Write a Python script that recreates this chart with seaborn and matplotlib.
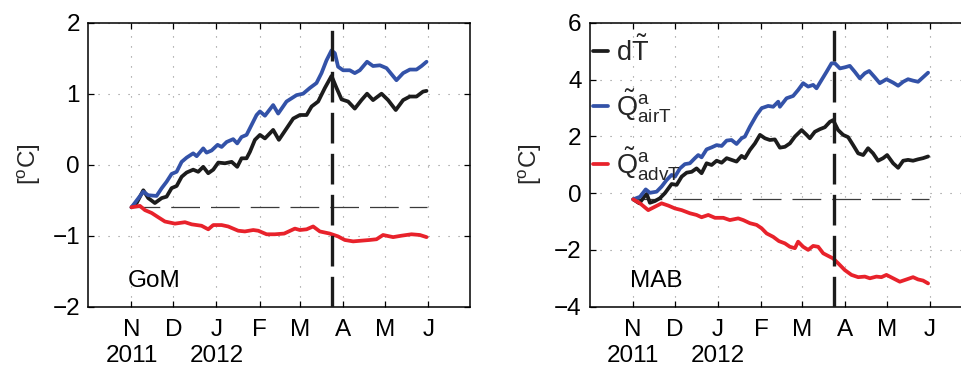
import numpy as np
import pandas as pd
import matplotlib
matplotlib.use("Agg")
import matplotlib.pyplot as plt
import seaborn as sns

# x values are days since 1 Oct 2011
month_ticks = [31, 61, 92, 123, 152, 183, 213, 244]
month_labels = ["N\n2011", "D", "J\n2012", "F", "M", "A", "M", "J"]
x_limits = (0, 274)
event_day = 175
series_names = [r"d$\tilde{T}$", r"$\tilde{Q}^{a}_{airT}$", r"$\tilde{Q}^{a}_{advT}$"]
series_colors = ["#1c1c1c", "#3352a8", "#e8222b"]
panel_names = ["GoM", "MAB"]
gom_yticks = [-2, -1, 0, 1, 2]
mab_yticks = [-4, -2, 0, 2, 4, 6]
gom_ref = -0.60
mab_ref = -0.22
ref_span = (31, 243)

# ---------------- GoM ----------------
gom_dT_day = [31, 34.7, 39.5, 43, 47.8, 52.7, 56.2, 59.8, 63.4, 67, 70.6, 75.3, 78.9, 82.5,
              86.1, 89.7, 93.3, 98.1, 102.9, 106.9, 110, 113.6, 116, 119.6, 123.2, 126.8,
              132.7, 136.8, 142.3, 147.1, 151.9, 156.7, 160.3, 165, 169.8, 174.6, 178.2,
              181.8, 186.5, 191.3, 196.1, 200.1, 204.4, 210.5, 215.2, 220.7, 226, 230.8,
              235.6, 240.3, 242.8]
gom_dT = [-0.60, -0.54, -0.36, -0.47, -0.54, -0.47, -0.45, -0.33, -0.30, -0.17, -0.11, -0.07,
          -0.10, -0.03, -0.12, -0.07, 0.03, 0.02, 0.04, -0.03, 0.09, 0.09, 0.18, 0.35, 0.42,
          0.37, 0.49, 0.35, 0.51, 0.65, 0.70, 0.70, 0.82, 0.89, 1.08, 1.25, 1.08, 0.92, 0.89,
          0.79, 0.91, 1.00, 0.91, 1.00, 0.91, 0.77, 0.91, 0.96, 0.96, 1.03, 1.04]

gom_air_day = [31, 39.5, 43, 49, 52.7, 56.2, 59.8, 63.4, 67, 70.6, 75.3, 77.8, 82.5, 84.9,
               88.5, 92.8, 95.7, 99.3, 104, 106.9, 110, 113.6, 117.2, 120.8, 123.2, 126.8,
               132.7, 136.3, 142.3, 149.5, 154.2, 159, 163.8, 167.4, 171, 174.6, 177, 179.3,
               182.9, 187.7, 191.3, 194.9, 200.1, 204.4, 209.3, 214.1, 221.2, 226, 230.8,
               235.6, 239.2, 242.8]
gom_air = [-0.60, -0.38, -0.43, -0.44, -0.33, -0.24, -0.13, -0.10, 0.04, 0.10, 0.16, 0.12,
           0.23, 0.17, 0.20, 0.28, 0.25, 0.32, 0.36, 0.30, 0.39, 0.42, 0.56, 0.70, 0.75, 0.69,
           0.84, 0.72, 0.89, 0.98, 1.00, 1.08, 1.15, 1.29, 1.47, 1.61, 1.57, 1.38, 1.33, 1.33,
           1.29, 1.33, 1.45, 1.39, 1.40, 1.36, 1.19, 1.29, 1.34, 1.34, 1.39, 1.45]

gom_adv_day = [31, 37, 40.7, 45.5, 50.2, 55, 62.2, 69.4, 74.2, 81.3, 86.1, 89.7, 95.7, 100.4,
               107.6, 112.4, 118.4, 122, 128, 133.9, 140.6, 148.3, 151.9, 156.7, 161.4, 166.2,
               173.3, 179.3, 184.1, 190.1, 196.1, 202.1, 206.9, 211.6, 218.8, 224.8, 232,
               238, 242.8]
gom_adv = [-0.60, -0.58, -0.64, -0.68, -0.74, -0.80, -0.83, -0.81, -0.84, -0.86, -0.91, -0.85,
           -0.85, -0.87, -0.93, -0.94, -0.92, -0.93, -0.98, -0.98, -0.97, -0.90, -0.92, -0.91,
           -0.87, -0.94, -0.97, -1.01, -1.06, -1.08, -1.07, -1.06, -1.05, -0.99, -1.02, -1.00,
           -0.98, -0.99, -1.02]

# ---------------- MAB ----------------
mab_dT_day = [31, 35.4, 38.9, 40.7, 43, 46.6, 50.2, 53.8, 58.6, 62.2, 65.8, 69.4, 73, 76.5,
              80.1, 83.7, 87.3, 90.9, 94.5, 98.1, 101.6, 105.2, 108.8, 111.2, 114.8, 118.4,
              122, 125.6, 129.1, 132.7, 136.3, 139.9, 143.5, 147.1, 151.9, 155.5, 157.8,
              161.4, 165, 168.6, 172.2, 174.5, 178.1, 181.7, 185.3, 188.9, 192.5, 196.1,
              199.6, 203.2, 206.8, 210.4, 213.3, 217.6, 221.2, 224.8, 228.3, 231.9, 235.5,
              239.1, 242.7]
mab_dT = [-0.22, -0.36, -0.13, -0.03, -0.34, -0.28, -0.18, 0.00, 0.32, 0.29, 0.58, 0.72, 0.75,
          0.87, 0.70, 1.05, 0.99, 1.14, 1.07, 1.23, 1.17, 1.11, 1.31, 1.23, 1.52, 1.75, 2.05,
          1.93, 1.87, 1.89, 1.60, 1.63, 1.75, 1.99, 2.22, 2.05, 1.93, 2.16, 2.25, 2.32, 2.51,
          2.57, 2.22, 2.05, 1.97, 1.69, 1.40, 1.34, 1.58, 1.40, 1.14, 1.23, 1.34, 1.05, 0.89,
          1.14, 1.17, 1.14, 1.19, 1.23, 1.29]

mab_air_day = [31, 35.9, 40, 43, 47.8, 51.4, 55, 58.6, 61, 64.6, 68.1, 71.7, 75.3, 77.7, 80.1,
               83.7, 87.3, 90.9, 94.5, 98.1, 101.6, 105.2, 108.8, 111.2, 114.8, 119.6, 123.2,
               127.9, 131.5, 135.1, 136.3, 141.1, 145.8, 149.4, 153, 156.6, 160.2, 162.6,
               166.2, 169.8, 173.4, 175.8, 179.4, 183, 186.5, 190.1, 193.7, 197.3, 200.4,
               204.4, 208, 212.8, 217.6, 221.2, 224.8, 228.3, 231.9, 235.5, 239.1, 242.7]
mab_air = [-0.22, -0.13, 0.13, 0.01, 0.05, 0.23, 0.46, 0.64, 0.58, 0.87, 1.02, 1.05, 1.23, 1.34,
           1.26, 1.54, 1.61, 1.69, 1.66, 1.85, 1.87, 1.73, 1.93, 1.99, 2.34, 2.75, 2.99, 3.07,
           3.04, 3.22, 3.04, 3.34, 3.42, 3.63, 3.87, 3.75, 3.81, 3.69, 3.98, 4.27, 4.57, 4.57,
           4.39, 4.43, 4.48, 4.27, 4.04, 4.22, 4.30, 4.08, 3.87, 4.01, 3.89, 3.78, 3.92, 4.01,
           3.96, 3.92, 4.08, 4.24]

mab_adv_day = [31, 35.9, 41.8, 46.6, 51.4, 56.2, 61, 65.8, 71.7, 76.5, 80.1, 84.9, 89.7, 95.7,
               100.4, 106.4, 110, 114.8, 119.6, 123.2, 126.8, 131.5, 135.6, 139.9, 143.5,
               147.1, 149.4, 153, 156.6, 160.2, 163.8, 167.4, 170.9, 174.5, 178.1, 182.9,
               187.7, 192.5, 197.3, 200.9, 205.6, 209.2, 212.8, 217.6, 222.4, 227.2, 231.9,
               235.5, 239.1, 242.7]
mab_adv = [-0.22, -0.36, -0.60, -0.48, -0.36, -0.44, -0.54, -0.60, -0.71, -0.77, -0.85, -0.77,
           -0.87, -0.87, -0.95, -0.89, -0.95, -1.06, -1.12, -1.24, -1.42, -1.54, -1.69, -1.77,
           -1.89, -1.94, -1.71, -1.89, -2.00, -1.86, -1.89, -2.12, -2.21, -2.30, -2.47, -2.71,
           -2.88, -2.96, -2.94, -3.00, -2.94, -2.96, -2.88, -3.00, -3.12, -3.04, -2.96, -3.04,
           -3.08, -3.18]


def long_frame(days_list, vals_list):
    parts = []
    for name, d, v in zip(series_names, days_list, vals_list):
        parts.append(pd.DataFrame({"day": d, "value": v, "series": name}))
    return pd.concat(parts, ignore_index=True)


gom_df = long_frame([gom_dT_day, gom_air_day, gom_adv_day], [gom_dT, gom_air, gom_adv])
mab_df = long_frame([mab_dT_day, mab_air_day, mab_adv_day], [mab_dT, mab_air, mab_adv])

sns.set_style("ticks")
plt.rcParams["font.family"] = ["Liberation Sans", "DejaVu Sans"]
plt.rcParams["mathtext.fontset"] = "custom"
plt.rcParams["mathtext.rm"] = "Liberation Sans"
plt.rcParams["mathtext.it"] = "Liberation Sans"
plt.rcParams["mathtext.sf"] = "Liberation Sans"
plt.rcParams["mathtext.bf"] = "Liberation Sans:bold"
plt.rcParams["axes.unicode_minus"] = True

FS = 17.5
W, H = 961, 368
fig = plt.figure(figsize=(W / 100, H / 100), dpi=100)
ax_w = 381.7 / W
ax_h = 284.0 / H
bottom = (H - 306.7) / H
ax1 = fig.add_axes([88.3 / W, bottom, ax_w, ax_h])
ax2 = fig.add_axes([590.0 / W, bottom, ax_w, ax_h])

palette = dict(zip(series_names, series_colors))

for ax, df, yticks, ref, name in [(ax1, gom_df, gom_yticks, gom_ref, panel_names[0]),
                                  (ax2, mab_df, mab_yticks, mab_ref, panel_names[1])]:
    sns.lineplot(data=df, x="day", y="value", hue="series", hue_order=series_names,
                 palette=palette, estimator=None, sort=False, linewidth=2.7,
                 legend=False, ax=ax, zorder=3)
    ax.plot(list(ref_span), [ref, ref], color="#3a3a3a", linewidth=0.9,
            dashes=(23, 8.8), zorder=2)
    ax.axvline(event_day, color="#1c1c1c", linewidth=2.4, dashes=(9.2, 3.1), zorder=4)
    ax.set_xlim(*x_limits)
    ax.set_ylim(yticks[0], yticks[-1])
    ax.set_xticks(month_ticks)
    ax.set_xticklabels(month_labels, fontsize=FS, linespacing=1.2)
    ax.set_yticks(yticks)
    ax.set_yticklabels([f"{t:d}".replace("-", "\u2212") for t in yticks], fontsize=FS)
    ax.set_xlabel("")
    ax.set_ylabel(r"[$^{o}$C]", fontsize=FS, labelpad=7)
    ax.grid(True, color="#8a8a8a", linewidth=0.8, linestyle=(0, (1, 8)))
    ax.tick_params(direction="in", top=True, right=True, length=4, width=0.9,
                   color="black", labelcolor="black")
    ax.tick_params(axis="x", pad=9)
    ax.tick_params(axis="y", pad=6)
    for sp in ax.spines.values():
        sp.set_visible(True)
        sp.set_color("black")
        sp.set_linewidth(1.1)
    ax.text(0.104, 0.068, name, transform=ax.transAxes, fontsize=FS,
            ha="left", va="baseline", color="black")

handles = ax2.get_lines()[:3]
leg = ax2.legend(handles, series_names, loc="upper left", frameon=False, fontsize=19.5,
                 handlelength=0.55, handletextpad=0.3, borderaxespad=0.1, borderpad=0.0,
                 labelspacing=0.75, bbox_to_anchor=(0.0, 0.96))

fig.savefig("out.png", dpi=100)
